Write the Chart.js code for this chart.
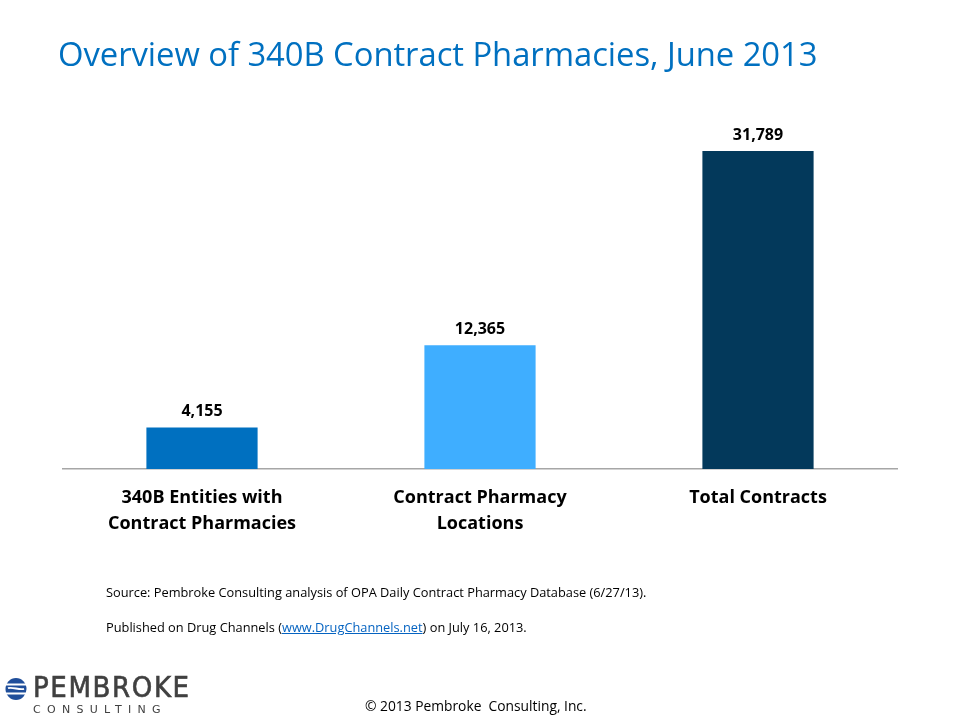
<!DOCTYPE html>
<html>
<head>
<meta charset="utf-8">
<script src="https://cdn.jsdelivr.net/npm/chart.js@4"></script>
<style>
  html, body { margin: 0; padding: 0; background: #fff; }
  body { width: 960px; height: 720px; position: relative; overflow: hidden; font-family: "Open Sans", "Noto Sans", sans-serif; }
  #chartWrap { position: absolute; left: 0; top: 0; width: 960px; height: 720px; }
  #title { position: absolute; left: 58px; top: 31px; font-size: 32.8px; color: #0070C0; white-space: nowrap; letter-spacing: -0.05px; }
  .note { position: absolute; left: 106px; font-size: 12.8px; color: #000; white-space: nowrap; }
  .note a { color: #0563C1; text-decoration: underline; }
  #copy { position: absolute; left: 365px; top: 696px; font-size: 13.8px; color: #000; white-space: nowrap; }
  #logo { position: absolute; left: 5px; top: 676px; }
  #logoMain { position: absolute; left: 28px; top: -6px; font-size: 29px; color: #404040; letter-spacing: 1.6px; white-space: nowrap; font-family: "DejaVu Sans Condensed", "DejaVu Sans", sans-serif; -webkit-text-stroke: 0.6px #404040; }
  #logoSub { position: absolute; left: 28px; top: 27px; font-size: 11px; color: #404040; letter-spacing: 6.3px; white-space: nowrap; font-family: "DejaVu Sans", sans-serif; }
</style>
</head>
<body>
<div id="chartWrap"><canvas id="c" width="960" height="720"></canvas></div>
<div id="title">Overview of 340B Contract Pharmacies, June 2013</div>
<div class="note" style="top:583px;">Source: Pembroke Consulting analysis of OPA Daily Contract Pharmacy Database (6/27/13).</div>
<div class="note" style="top:618px;">Published on Drug Channels (<a href="#">www.DrugChannels.net</a>) on July 16, 2013.</div>
<div id="logo">
  <svg width="22" height="24" viewBox="0 0 22 24" style="position:absolute;left:0;top:1px;">
    <ellipse cx="11" cy="12" rx="10.5" ry="11" fill="#1F4E9A"/>
    <rect x="0" y="6.5" width="22" height="2" fill="#fff"/>
    <rect x="0" y="15.5" width="22" height="2" fill="#fff"/>
    <path d="M3 11.2 C7 9.5, 15 13.5, 19 11.8" stroke="#fff" stroke-width="1.8" fill="none"/>
  </svg>
  <div id="logoMain">PEMBROKE</div>
  <div id="logoSub">CONSULTING</div>
</div>
<div id="copy">© 2013 Pembroke&nbsp; Consulting, Inc.</div>
<script>
const categories = [["340B Entities with", "Contract Pharmacies"], ["Contract Pharmacy", "Locations"], ["Total Contracts"]];
const values = [4155, 12365, 31789];
const barColors = ["#0070C0", "#3FAEFF", "#03395B"];

const valueLabels = {
  id: 'valueLabels',
  afterDatasetsDraw(chart) {
    const ctx = chart.ctx;
    const meta = chart.getDatasetMeta(0);
    ctx.save();
    ctx.font = 'bold 16px "Open Sans", sans-serif';
    ctx.fillStyle = '#000';
    ctx.textAlign = 'center';
    ctx.textBaseline = 'bottom';
    meta.data.forEach((bar, i) => {
      ctx.fillText(values[i].toLocaleString('en-US'), bar.x, bar.y - 8);
    });
    ctx.restore();
  }
};

new Chart(document.getElementById('c'), {
  type: 'bar',
  data: {
    labels: categories,
    datasets: [{
      data: values,
      backgroundColor: barColors,
      borderWidth: 0,
      categoryPercentage: 1,
      barPercentage: 0.4
    }]
  },
  options: {
    responsive: false,
    animation: false,
    events: [],
    layout: { padding: { left: 63, right: 63, top: 119, bottom: 151 } },
    plugins: { legend: { display: false }, tooltip: { enabled: false } },
    scales: {
      y: { display: false, min: 0, max: 35000 },
      x: {
        afterFit(s) { s.height = 100; },
        grid: { display: false, drawTicks: false },
        border: { display: true, color: '#A6A6A6', width: 1.5 },
        ticks: {
          padding: 16,
          color: '#000',
          font: { family: '"Open Sans", sans-serif', size: 18, weight: 'bold', lineHeight: 1.45 },
          maxRotation: 0
        }
      }
    }
  },
  plugins: [valueLabels]
});
</script>
</body>
</html>
